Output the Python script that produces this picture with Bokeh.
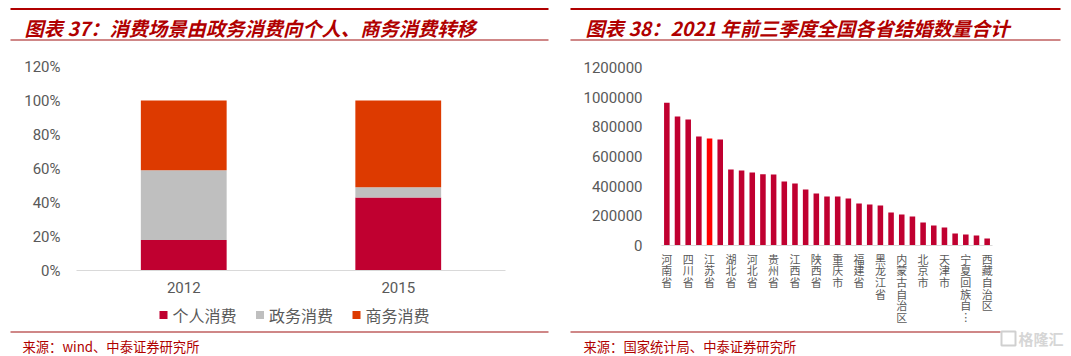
from bokeh.plotting import figure
from bokeh.layouts import row, column
from bokeh.models import (ColumnDataSource, FactorRange, Range1d, FixedTicker,
                          NumeralTickFormatter, BasicTickFormatter)
from bokeh.core.properties import value
from bokeh.embed import file_html
from bokeh.resources import INLINE

# ---------------- data ----------------
years = ["2012", "2015"]
series_names = ["个人消费", "政务消费", "商务消费"]
personal = [0.18, 0.43]
government = [0.41, 0.06]
business = [0.41, 0.51]

provinces = ["河南省", "山东省", "四川省", "广东省", "江苏省", "安徽省", "湖北省", "湖南省",
             "河北省", "广西壮族自治区", "贵州省", "云南省", "江西省", "浙江省", "陕西省", "山西省",
             "重庆市", "甘肃省", "福建省", "辽宁省", "黑龙江省", "吉林省", "内蒙古自治区",
             "新疆维吾尔自治区", "北京市", "上海市", "天津市", "海南省", "宁夏回族自治区",
             "青海省", "西藏自治区"]
marriages = [962000, 870000, 849000, 735000, 721000, 715000, 512000, 506000,
             492000, 481000, 479000, 431000, 418000, 378000, 351000, 330000,
             330000, 317000, 283000, 276000, 270000, 222000, 209000, 195000,
             155000, 135000, 121000, 81000, 74000, 67000, 47000]
highlight = "江苏省"
shown_tick_labels = ["河南省", "四川省", "江苏省", "湖北省", "河北省", "贵州省", "江西省", "陕西省",
                     "重庆市", "福建省", "黑龙江省", "内蒙古自治区", "北京市", "天津市",
                     "宁夏回族自…", "西藏自治区"]

titles = ["图表 37：消费场景由政务消费向个人、商务消费转移",
          "图表 38：2021 年前三季度全国各省结婚数量合计"]
sources = ["来源：wind、中泰证券研究所", "来源：国家统计局、中泰证券研究所"]

W, H = 1071, 356
LW = 548
RW = W - LW
TOP_H = 44          # title strip height
BOT_H = 27          # source strip height
MID_H = H - TOP_H - BOT_H
LEG_H = 29          # legend strip height (left panel)
RED_TITLE = "#B00000"
RULE = "#A01010"
GREY = "#595959"
CJK = "Noto Sans CJK SC"
NUM = "Roboto"
BAR_COLORS = ["#C00030", "#BFBFBF", "#DD3A00"]


def strip(width, height):
    s = figure(width=width, height=height, x_range=Range1d(0, width),
               y_range=Range1d(height, 0), x_axis_type=None, y_axis_type=None,
               output_backend="svg", toolbar_location=None, min_border=0, frame_align=False)
    s.outline_line_color = None
    s.grid.visible = False
    s.background_fill_color = "white"
    s.border_fill_color = "white"
    return s


# ---------------- title strip ----------------
top = strip(W, TOP_H)
top.quad(left=[10, 570], right=[548, 1060], top=[7.5, 7.5], bottom=[9.5, 9.5],
         color=RED_TITLE, line_color=None)
top.quad(left=[10, 570], right=[548, 1060], top=[39, 39], bottom=[40, 40],
         color=RULE, line_color=None)
top.text(x=[24, 585], y=[27.5, 27.5], text=titles, text_font=value(CJK),
         text_font_size="19.3px", text_font_style="bold italic", text_color=RED_TITLE,
         text_baseline="middle", text_align="left")

# ---------------- source strip ----------------
y0 = H - BOT_H
bot = strip(W, BOT_H)
bot.quad(left=[10, 570], right=[548, 1000], top=[331 - y0] * 2, bottom=[332 - y0] * 2,
         color=RULE, line_color=None)
bot.text(x=[22, 583], y=[346 - y0] * 2, text=sources, text_font=value(CJK),
         text_font_size="13.3px", text_color=RED_TITLE, text_baseline="middle",
         text_align="left")
# watermark
bot.quad(left=[1001], right=[1015], top=[331 - y0], bottom=[345 - y0], fill_color=None,
         line_color="#D0D0D0", line_width=2)
bot.text(x=[1018], y=[338 - y0], text=["格隆汇"], text_font=value(CJK), text_font_size="15px",
         text_font_style="bold", text_color="#D6D6D6", text_baseline="middle")

# ---------------- left chart ----------------
LH = MID_H - LEG_H
L_TOP, L_BOT = 66 - TOP_H, 270 - TOP_H
left = figure(width=LW, height=LH, x_range=FactorRange(*years), y_range=Range1d(0, 1.2),
              output_backend="svg", toolbar_location=None, frame_align=False,
              min_border_left=76, min_border_right=LW - 505, min_border_top=L_TOP,
              min_border_bottom=LH - L_BOT)
src = ColumnDataSource(dict(year=years, **{series_names[0]: personal,
                                           series_names[1]: government,
                                           series_names[2]: business}))
left.vbar_stack(series_names, x="year", width=0.4, source=src,
                color=BAR_COLORS, line_color=None)
left.yaxis.ticker = FixedTicker(ticks=[0, 0.2, 0.4, 0.6, 0.8, 1.0, 1.2])
left.yaxis.formatter = NumeralTickFormatter(format="0%")

# legend strip below left chart
ly0 = TOP_H + LH
leg = strip(LW, LEG_H)
sq_x = [159 + 96.5 * i for i in range(len(series_names))]
leg.quad(left=sq_x, right=[x + 8 for x in sq_x], top=[310.5 - ly0] * 3,
         bottom=[318.5 - ly0] * 3, color=BAR_COLORS, line_color=None)
leg.text(x=[x + 13 for x in sq_x], y=[314.5 - ly0] * 3, text=series_names,
         text_font=value(CJK), text_font_size="16px", text_color=GREY,
         text_baseline="middle", text_align="left")

# ---------------- right chart ----------------
R_TOP, R_BOT = 67 - TOP_H, 245 - TOP_H
right = figure(width=RW, height=MID_H, x_range=Range1d(-0.5, len(provinces) - 0.5),
               y_range=Range1d(0, 1200000), output_backend="svg", toolbar_location=None,
               frame_align=False,
               min_border_left=661 - LW, min_border_right=W - 992, min_border_top=R_TOP,
               min_border_bottom=MID_H - R_BOT)
idx = list(range(len(provinces)))
colors = ["#FF0000" if n == highlight else "#C00030" for n in provinces]
rsrc = ColumnDataSource(dict(x=idx, v=marriages, c=colors, name=provinces))
right.vbar(x="x", top="v", width=0.52, color="c", line_color=None, source=rsrc)
right.yaxis.ticker = FixedTicker(ticks=list(range(0, 1200001, 200000)))
right.yaxis.formatter = BasicTickFormatter(use_scientific=False)
tick_pos = idx[::2]
right.xaxis.ticker = FixedTicker(ticks=tick_pos)
right.xaxis.major_label_overrides = {
    t: "\n".join(lbl.replace("…", "︙")) for t, lbl in zip(tick_pos, shown_tick_labels)}

# ---------------- common styling ----------------
for p in (left, right):
    p.outline_line_color = None
    p.xgrid.grid_line_color = None
    p.ygrid.grid_line_color = None
    p.background_fill_color = "white"
    p.border_fill_color = "white"
    p.yaxis.axis_line_color = None
    p.yaxis.major_tick_line_color = None
    p.yaxis.minor_tick_line_color = None
    p.yaxis.major_tick_out = 0
    p.yaxis.major_label_text_font = NUM
    p.yaxis.major_label_text_font_size = "15px"
    p.yaxis.major_label_text_color = GREY
    p.xaxis.axis_line_color = "#D9D9D9"
    p.xaxis.major_tick_line_color = None
    p.xaxis.minor_tick_line_color = None
    p.xaxis.major_tick_out = 0
    p.xaxis.major_label_text_color = GREY

left.yaxis.major_label_standoff = 16
left.xaxis.major_label_text_font = NUM
left.xaxis.major_label_text_font_size = "15px"
left.xaxis.major_label_standoff = 11

right.yaxis.major_label_standoff = 19
right.xaxis.major_label_text_font = CJK
right.xaxis.major_label_text_font_size = "11px"
right.xaxis.major_label_text_line_height = 0.73
right.xaxis.major_label_standoff = 5

layout = column(top,
                row(column(left, leg, spacing=0), right, spacing=0),
                bot, spacing=0)
open("out.html", "w").write(file_html(layout, INLINE))
